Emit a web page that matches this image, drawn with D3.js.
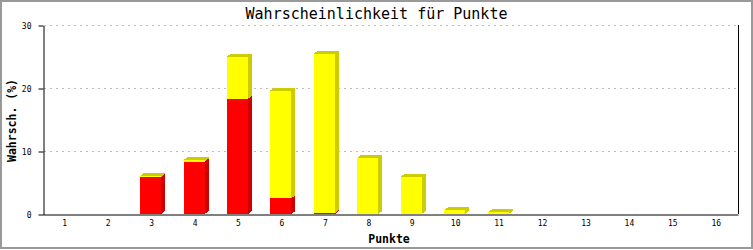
<!DOCTYPE html>
<html>
<head>
<meta charset="utf-8">
<script src="https://cdn.jsdelivr.net/npm/d3@7"></script>
<style>
  body { margin: 0; background: #fff; }
  svg { display: block; }
  text { font-family: "DejaVu Sans Mono", "Liberation Mono", monospace; fill: #000; }
</style>
</head>
<body>
<svg id="chart" width="753" height="250"></svg>
<script>
// points 1..16, stacked probabilities in percent
const categories = ["1", "2", "3", "4", "5", "6", "7", "8", "9", "10", "11", "12", "13", "14", "15", "16"];
const redValues = [0, 0, 5.9, 8.3, 18.3, 2.5, 0.15, 0, 0, 0, 0, 0, 0, 0, 0, 0];
const yellowValues = [0, 0, 0.15, 0.27, 6.7, 17.1, 25.3, 8.94, 5.92, 0.63, 0.24, 0, 0, 0, 0, 0];
const yTicks = [0, 10, 20, 30];

const svg = d3.select("#chart");
const W = 753, H = 250;
const plot = {left: 43, right: 738, top: 25, bottom: 214};

// outer frame
svg.append("rect")
    .attr("x", 1).attr("y", 1)
    .attr("width", W - 2).attr("height", H - 3)
    .attr("fill", "#fff")
    .attr("stroke", "#999")
    .attr("stroke-width", 2);

const x = d3.scaleBand()
    .domain(categories)
    .range([plot.left, plot.right]);

const y = d3.scaleLinear()
    .domain([0, 30])
    .range([plot.bottom, plot.top]);

// grid
svg.append("g")
    .selectAll("line")
    .data(yTicks.filter(d => d > 0))
    .join("line")
    .attr("x1", plot.left + 1).attr("x2", plot.right)
    .attr("y1", d => Math.round(y(d)) + 0.5).attr("y2", d => Math.round(y(d)) + 0.5)
    .attr("stroke", "#bbb")
    .attr("stroke-dasharray", "2,4");

// stacked data
const stackData = categories.map((c, i) => ({cat: c, red: redValues[i], yellow: yellowValues[i]}));
const series = d3.stack().keys(["red", "yellow"])(stackData);
const colors = {
    red: {front: "#ff0000", side: "#cc0000"},
    yellow: {front: "#ffff00", side: "#cccc00"}
};

const frontW = 21, dx = 4, dy = 3;
const bars = svg.append("g").attr("shape-rendering", "crispEdges");

series.forEach(s => {
    const col = colors[s.key];
    s.forEach(d => {
        if (d[1] - d[0] <= 0) return;
        const x0 = x(d.data.cat) + (x.bandwidth() - frontW - dx) / 2 + 1;
        const yTop = y(d[1]), yBot = y(d[0]);
        const g = bars.append("g");
        // side
        g.append("polygon")
            .attr("points", [[x0 + frontW, yBot], [x0 + frontW + dx, yBot - dy], [x0 + frontW + dx, yTop - dy], [x0 + frontW, yTop]].join(" "))
            .attr("fill", col.side);
        // top
        g.append("polygon")
            .attr("points", [[x0, yTop], [x0 + dx, yTop - dy], [x0 + frontW + dx, yTop - dy], [x0 + frontW, yTop]].join(" "))
            .attr("fill", col.side);
        // front
        g.append("rect")
            .attr("x", x0).attr("y", yTop)
            .attr("width", frontW).attr("height", yBot - yTop)
            .attr("fill", col.front);
    });
});

// right border of plot
svg.append("line")
    .attr("x1", plot.right + 0.5).attr("x2", plot.right + 0.5)
    .attr("y1", plot.top).attr("y2", plot.bottom)
    .attr("stroke", "#000");

// y axis
const yAxis = svg.append("g")
    .attr("transform", `translate(${plot.left + 0.5},0.5)`)
    .call(d3.axisLeft(y).tickValues(yTicks).tickSize(5).tickSizeOuter(0).tickPadding(7));
yAxis.select(".domain").attr("stroke", "#000");
yAxis.selectAll("text").style("font-size", "8px").attr("font-family", null);

// x axis
const xAxis = svg.append("g")
    .attr("transform", `translate(0,${plot.bottom + 0.5})`)
    .call(d3.axisBottom(x).tickSize(0).tickSizeOuter(0));
xAxis.select(".domain").attr("stroke", "#000");
xAxis.selectAll("text")
    .style("font-size", "8px").attr("font-family", null)
    .attr("y", 11.5).attr("dy", 0);

// titles
svg.append("text")
    .attr("x", 376.5).attr("y", 19)
    .attr("text-anchor", "middle")
    .style("font-size", "15px")
    .text("Wahrscheinlichkeit für Punkte");

svg.append("text")
    .attr("x", 389).attr("y", 243)
    .attr("text-anchor", "middle")
    .style("font-size", "11.5px")
    .style("font-weight", "bold")
    .text("Punkte");

svg.append("text")
    .attr("transform", "translate(16,120.5) rotate(-90)")
    .attr("text-anchor", "middle")
    .style("font-size", "11.5px")
    .style("font-weight", "bold")
    .text("Wahrsch. (%)");
</script>
</body>
</html>
